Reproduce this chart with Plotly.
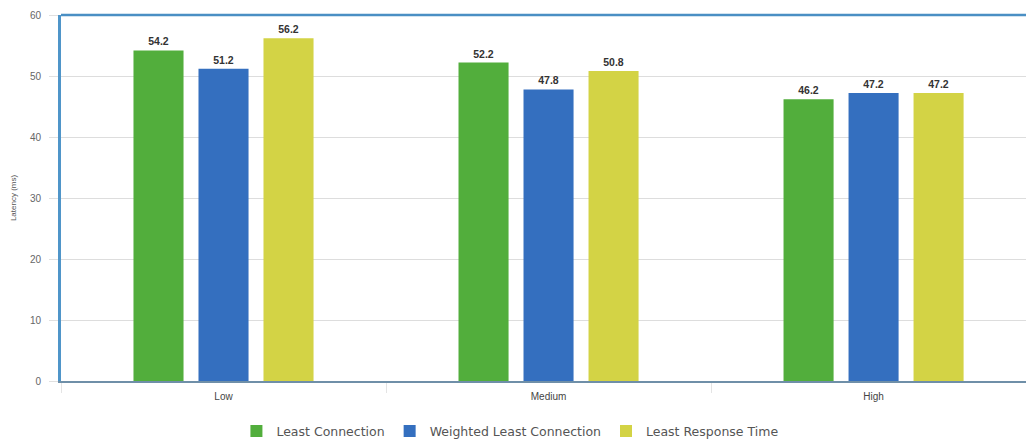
import plotly.graph_objects as go

categories = ["Low", "Medium", "High"]
series_names = ["Least Connection", "Weighted Least Connection", "Least Response Time"]
least_connection = [54.2, 52.2, 46.2]
weighted_least_connection = [51.2, 47.8, 47.2]
least_response_time = [56.2, 50.8, 47.2]
y_ticks = [0, 10, 20, 30, 40, 50, 60]

colors = ["#52ae3c", "#346fbf", "#d3d345"]
values = [least_connection, weighted_least_connection, least_response_time]

fig = go.Figure()
for name, vals, col in zip(series_names, values, colors):
    fig.add_trace(go.Bar(
        x=categories, y=vals, name=name,
        marker=dict(color=col, line=dict(width=0)),
        text=[f"{v:.1f}" for v in vals], textposition="outside",
        textfont=dict(family="Liberation Sans, Arial", size=10.5, color="#333333"),
        texttemplate="<b>%{text}</b>", cliponaxis=False,
    ))

fig.update_layout(
    width=1026, height=442,
    margin=dict(l=61, r=0, t=15, b=61, autoexpand=False),
    paper_bgcolor="white", plot_bgcolor="white",
    barmode="group", bargap=0.4, bargroupgap=0.23,
    font=dict(family="Liberation Sans, Arial", size=10, color="#555555"),
    showlegend=True,
    legend=dict(orientation="h", xref="container", x=0.497, xanchor="center",
                yref="container", y=0.024, yanchor="middle",
                font=dict(family="DejaVu Sans, Verdana", size=12.5, color="#555555"),
                itemwidth=30, traceorder="normal"),
    xaxis=dict(range=[-0.5, 2.469], showgrid=False, showline=True, linecolor="#6f8fa8",
               linewidth=1.5, tickson="boundaries", ticks="outside", ticklen=10,
               tickcolor="#e4e4e4", ticklabelstandoff=5,
               tickfont=dict(size=10, color="#444444")),
    yaxis=dict(range=[0, 60], tickvals=y_ticks, showgrid=True, gridcolor="#dddddd",
               gridwidth=1, zeroline=False, showline=True, linecolor="#4f95c9", linewidth=3,
               ticks="outside", ticklen=9, tickcolor="#e0e0e0", ticklabelstandoff=6,
               tickfont=dict(size=10, color="#666666"),
               title=dict(text="Latency (ms)", font=dict(size=8, color="#555555"), standoff=13)),
    shapes=[dict(type="line", xref="paper", yref="paper", x0=0, x1=1, y0=1, y1=1,
                 line=dict(color="#4a8fc4", width=2.5))],
)

fig.write_html("out.html")
